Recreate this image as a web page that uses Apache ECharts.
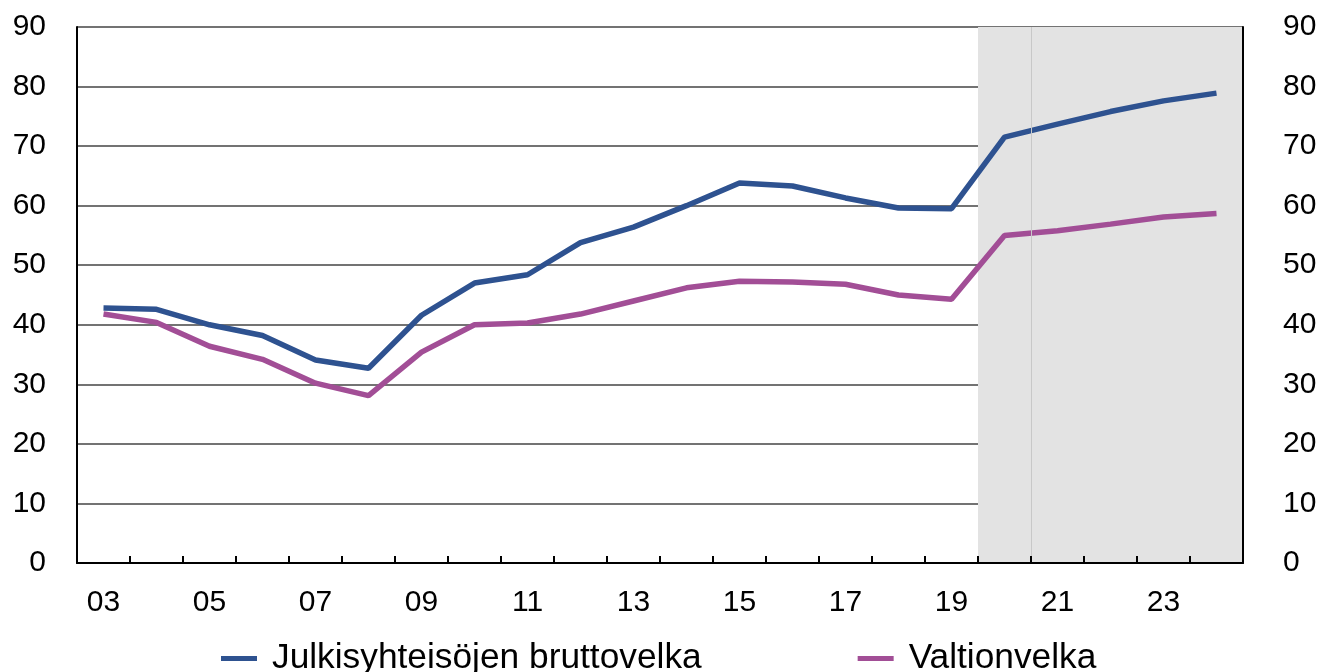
<!DOCTYPE html>
<html>
<head>
<meta charset="utf-8">
<script src="https://cdn.jsdelivr.net/npm/echarts@6/dist/echarts.min.js"></script>
<style>html,body{margin:0;padding:0;background:#fff}#c{width:1325px;height:672px}</style>
</head>
<body>
<div id="c"></div>
<script>
var categories = ['03','04','05','06','07','08','09','10','11','12','13','14','15','16','17','18','19','20','21','22','23','24'];
var julkisyhteisot = [42.8,42.6,40.0,38.2,34.1,32.7,41.6,47.0,48.4,53.8,56.4,60.0,63.8,63.3,61.3,59.6,59.5,71.5,73.7,75.8,77.6,78.9];
var valtionvelka = [41.8,40.4,36.4,34.2,30.2,28.1,35.4,40.0,40.3,41.8,44.0,46.2,47.3,47.2,46.8,45.0,44.3,55.0,55.8,56.9,58.1,58.7];
var yTicks = [0,10,20,30,40,50,60,70,80,90];
var forecastStart = '20';
var forecastDivider = '21';
var seriesNames = ['Julkisyhteisöjen bruttovelka','Valtionvelka'];

var fs = categories.indexOf(forecastStart);
var fd = categories.indexOf(forecastDivider);
var font = 'Liberation Sans, Arial, sans-serif';
var chart = echarts.init(document.getElementById('c'));
chart.setOption({
  animation: false,
  grid: {left: 77, right: 82, top: 27, bottom: 109},
  legend: {
    top: 636, left: 216, itemGap: 156, itemWidth: 36, itemHeight: 5,
    icon: 'rect',
    textStyle: {fontFamily: font, fontSize: 35.3, color: '#000', padding: [0,0,0,10]},
    data: seriesNames
  },
  xAxis: [{
    type: 'category', data: categories, boundaryGap: true, z: 5,
    axisLine: {lineStyle: {color: '#000', width: 2}},
    axisTick: {show: true, inside: true, length: 7, interval: 0, lineStyle: {color: '#000', width: 2}},
    axisLabel: {interval: 1, fontFamily: font, fontSize: 30, color: '#000', margin: 25},
    splitLine: {show: false}
  }, {
    type: 'value', min: 0, max: categories.length, show: false
  }],
  yAxis: [{
    type: 'value', min: yTicks[0], max: yTicks[yTicks.length-1], interval: 10,
    axisLine: {show: true, lineStyle: {color: '#000', width: 2}},
    axisTick: {show: false},
    axisLabel: {fontFamily: font, fontSize: 30, color: '#000', margin: 31},
    splitLine: {show: true, lineStyle: {color: '#444', width: 1.5}}
  }, {
    type: 'value', min: yTicks[0], max: yTicks[yTicks.length-1], interval: 10, position: 'right', z: 5,
    axisLine: {show: true, lineStyle: {color: '#000', width: 2}},
    axisTick: {show: false},
    axisLabel: {fontFamily: font, fontSize: 30, color: '#000', margin: 40, align: 'left'},
    splitLine: {show: false}
  }],
  series: [{
    type: 'line', xAxisIndex: 1, yAxisIndex: 0, data: [], silent: true, z: 1,
    markArea: {silent: true, itemStyle: {color: '#e3e3e3'},
      data: [[{xAxis: fs, yAxis: yTicks[0]}, {xAxis: categories.length, yAxis: yTicks[yTicks.length-1]}]]},
    markLine: {silent: true, symbol: 'none', label: {show: false},
      lineStyle: {color: '#c8c8c8', width: 1, type: 'solid'},
      data: [[{xAxis: fd, yAxis: yTicks[0]}, {xAxis: fd, yAxis: yTicks[yTicks.length-1]}]]}
  }, {
    name: seriesNames[0], type: 'line', data: julkisyhteisot, symbol: 'none', z: 3,
    lineStyle: {color: '#2E5290', width: 5.5}, itemStyle: {color: '#2E5290'}
  }, {
    name: seriesNames[1], type: 'line', data: valtionvelka, symbol: 'none', z: 3,
    lineStyle: {color: '#A24E96', width: 5.5}, itemStyle: {color: '#A24E96'}
  }]
});
</script>
</body>
</html>
